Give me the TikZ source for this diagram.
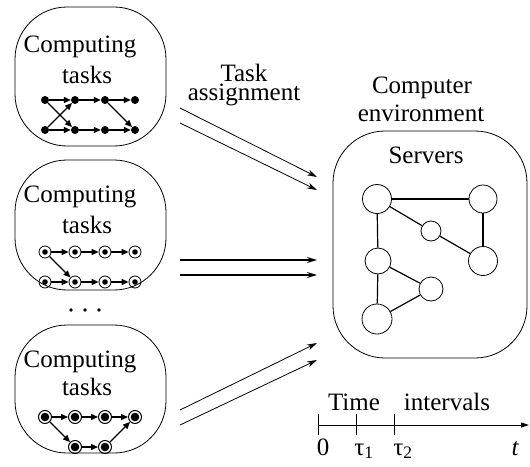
\documentclass[tikz,border=0pt]{standalone}
\usepackage{fontspec}
\setmainfont{Liberation Serif}
\usetikzlibrary{arrows.meta,positioning}

\begin{document}
\begin{tikzpicture}[
    x=1pt, y=-1pt,
    font=\fontsize{25}{28}\selectfont,
    every node/.style={inner sep=0pt},
    taskbox/.style={draw, line width=0.8pt, rounded corners=52pt, minimum width=151pt},
    job/.style={circle, fill, minimum size=8pt},
    jobring/.style={circle, draw, line width=0.8pt, minimum size=12pt,
        path picture={\fill (path picture bounding box.center) circle (2.8pt);}},
    jobheavy/.style={circle, draw, line width=1pt, minimum size=13pt,
        path picture={\fill (path picture bounding box.center) circle (4.3pt);}},
    flow/.style={-{Triangle[length=7pt,width=6pt]}, line width=1.3pt},
    assign/.style={-{Stealth[length=10pt,width=6pt]}, line width=0.8pt},
    server/.style={circle, draw, line width=0.8pt},
    link/.style={line width=1.2pt}
]
    \useasboundingbox (0,0) rectangle (530,466);

    % Three sets of computing tasks
    \node[taskbox, minimum height=139pt] (box1) at (90.5,76.5) {};
    \node[taskbox, minimum height=130pt] (box2) at (90.5,225) {};
    \node[taskbox, minimum height=128pt] (box3) at (90.5,389) {};
    \node (cmp1) at (80,47) {Computing};
    \node (tsk1) at (87,75) {tasks};
    \node (cmp2) at (80,197) {Computing};
    \node (tsk2) at (87,225) {tasks};
    \node (cmp3) at (80,362) {Computing};
    \node (tsk3) at (87,387) {tasks};

    % First task graph
    \node[job] (a1) at (45,100) {};
    \node[job] (a2) at (75,100) {};
    \node[job] (a3) at (105,100) {};
    \node[job] (a4) at (135,100) {};
    \node[job] (b1) at (45,130) {};
    \node[job] (b2) at (75,130) {};
    \node[job] (b3) at (105,130) {};
    \node[job] (b4) at (135,130) {};
    \path[flow]
        (a1) edge (a2) (a2) edge (a3) (a3) edge (a4)
        (b1) edge (b2) (b2) edge (b3) (b3) edge (b4)
        (a1) edge (b2) (b1) edge (a2) (a3) edge (b4);

    % Second task graph
    \node[jobring] (c1) at (45,252) {};
    \node[jobring] (c2) at (75,252) {};
    \node[jobring] (c3) at (105,252) {};
    \node[jobring] (c4) at (135,252) {};
    \node[jobring] (d1) at (45,282) {};
    \node[jobring] (d2) at (75,282) {};
    \node[jobring] (d3) at (105,282) {};
    \node[jobring] (d4) at (135,282) {};
    \path[flow]
        (c1) edge (c2) (c2) edge (c3) (c3) edge (c4)
        (d1) edge (d2) (d2) edge (d3) (d3) edge (d4)
        (c1) edge (d2);

    % More sets in between
    \fill (71,310) circle (1.8pt);
    \fill (85,310) circle (1.8pt);
    \fill (99,310) circle (1.8pt);

    % Third task graph
    \node[jobheavy] (e1) at (45,417) {};
    \node[jobheavy] (e2) at (75,417) {};
    \node[jobheavy] (e3) at (105,417) {};
    \node[jobheavy] (e4) at (135,417) {};
    \node[jobheavy] (f2) at (75,447) {};
    \node[jobheavy] (f3) at (105,447) {};
    \path[flow]
        (e1) edge (e2) (e2) edge (e3) (e3) edge (e4)
        (e1) edge (f2) (f2) edge (f3) (f3) edge (e4);

    % Task assignment arrows
    \node[align=center, font=\fontsize{25}{19}\selectfont] (asg) at (244,85) {Task\\assignment};
    \coordinate (p1) at (180,108);
    \coordinate (q1) at (317,177);
    \coordinate (p2) at (180,123);
    \coordinate (q2) at (317,190);
    \coordinate (p3) at (180,260);
    \coordinate (q3) at (317,260);
    \coordinate (p4) at (180,275);
    \coordinate (q4) at (317,275);
    \coordinate (p5) at (180,410);
    \coordinate (q5) at (317,343);
    \coordinate (p6) at (180,425);
    \coordinate (q6) at (317,360);
    \draw[assign] (p1) -- (q1);
    \draw[assign] (p2) -- (q2);
    \draw[assign, line width=1.3pt] (p3) -- (q3);
    \draw[assign, line width=1.3pt] (p4) -- (q4);
    \draw[assign] (p5) -- (q5);
    \draw[assign] (p6) -- (q6);

    % Computer environment with servers
    \node (comp) at (422,88) {Computer};
    \node (envl) at (421,113) {environment};
    \node[taskbox, minimum width=194pt, minimum height=227pt] (env) at (430,244.5) {};
    \node (srv) at (426,155) {Servers};
    \node[server, minimum size=29pt] (s1) at (377,199) {};
    \node[server, minimum size=28pt] (s2) at (483,199) {};
    \node[server, minimum size=20pt] (s3) at (431,231) {};
    \node[server, minimum size=29pt] (s4) at (483,261) {};
    \node[server, minimum size=26pt] (s5) at (378,261) {};
    \node[server, minimum size=24pt] (s6) at (431,289) {};
    \node[server, minimum size=30pt] (s7) at (377,319) {};
    \path[link]
        (s1) edge (s2) (s1) edge (s3) (s3) edge (s4) (s2) edge (s4)
        (s1) edge (s5) (s5) edge (s6) (s5) edge (s7) (s6) edge (s7);

    % Time intervals
    \coordinate (t0) at (318,425);
    \coordinate (t1) at (356,425);
    \coordinate (t2) at (394,425);
    \coordinate (tn) at (529,425);
    \draw[line width=1pt, -{Triangle[length=8pt,width=5pt]}] (t0) -- (tn);
    \draw[line width=1pt] (t0) ++(0,-11) -- ++(0,21);
    \draw[line width=1pt] (t1) ++(0,-11) -- ++(0,21);
    \draw[line width=1pt] (t2) ++(0,-11) -- ++(0,21);
    \node[anchor=base] (time) at (354,410) {Time};
    \node[anchor=base] (intv) at (447,410) {intervals};
    \node[anchor=base] (l0) at (323,455) {0};
    \node[anchor=base] (l1) at (364,455) {τ\textsubscript{1}};
    \node[anchor=base] (l2) at (403,455) {τ\textsubscript{2}};
    \node[anchor=base] (ln) at (515,455) {\itshape t};
\end{tikzpicture}
\end{document}
